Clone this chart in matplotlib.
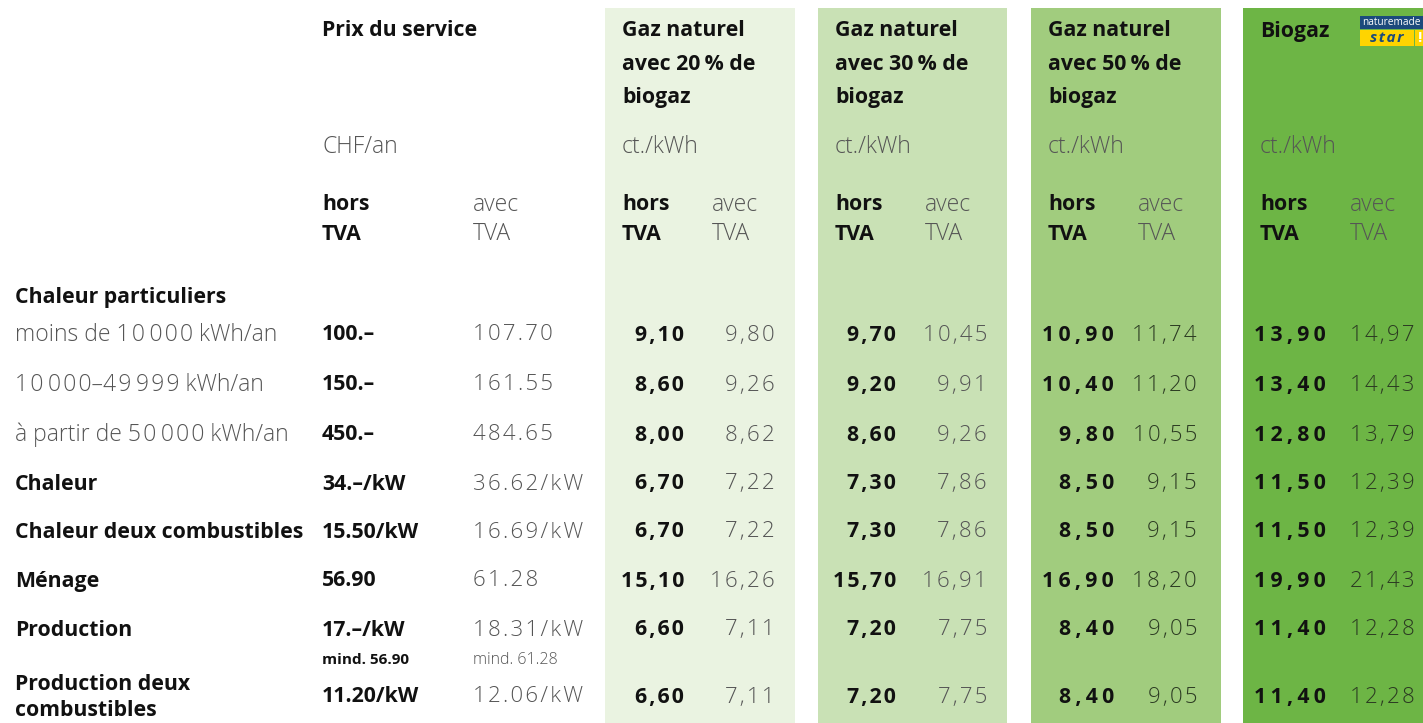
import re
import matplotlib.pyplot as plt
from matplotlib.patches import Rectangle

plt.rcParams['font.family'] = ['Open Sans', 'DejaVu Sans']

# table data
categories = ["moins de 10\u2009000 kWh/an", "10\u2009000\u201349\u2009999 kWh/an",
              "à partir de 50\u2009000 kWh/an", "Chaleur", "Chaleur deux combustibles",
              "Ménage", "Production", "Production deux\ncombustibles"]
cat_bold = [False, False, False, True, True, True, True, True]
prix_hors = ["100.–", "150.–", "450.–", "34.–/kW", "15.50/kW", "56.90", "17.–/kW", "11.20/kW"]
prix_avec = ["107.70", "161.55", "484.65", "36.62/kW", "16.69/kW", "61.28", "18.31/kW", "12.06/kW"]
gaz20_hors = [9.10, 8.60, 8.00, 6.70, 6.70, 15.10, 6.60, 6.60]
gaz20_avec = [9.80, 9.26, 8.62, 7.22, 7.22, 16.26, 7.11, 7.11]
gaz30_hors = [9.70, 9.20, 8.60, 7.30, 7.30, 15.70, 7.20, 7.20]
gaz30_avec = [10.45, 9.91, 9.26, 7.86, 7.86, 16.91, 7.75, 7.75]
gaz50_hors = [10.90, 10.40, 9.80, 8.50, 8.50, 16.90, 8.40, 8.40]
gaz50_avec = [11.74, 11.20, 10.55, 9.15, 9.15, 18.20, 9.05, 9.05]
bio_hors = [13.90, 13.40, 12.80, 11.50, 11.50, 19.90, 11.40, 11.40]
bio_avec = [14.97, 14.43, 13.79, 12.39, 12.39, 21.43, 12.28, 12.28]

band_titles = ["Gaz naturel\navec 20\u2009% de\nbiogaz", "Gaz naturel\navec 30\u2009% de\nbiogaz",
               "Gaz naturel\navec 50\u2009% de\nbiogaz", "Biogaz"]
band_colors = ["#eaf3e1", "#c9e1b5", "#a1cc7e", "#6db545"]
band_x = [(605, 795), (818, 1007), (1031, 1221), (1243, 1423)]
hors_right = [684, 896, 1114, 1326]
avec_right = [775, 987, 1197, 1415]
bands = [(gaz20_hors, gaz20_avec), (gaz30_hors, gaz30_avec),
         (gaz50_hors, gaz50_avec), (bio_hors, bio_avec)]

row_y = [335, 385, 435, 484, 532, 581, 630, 697]

fig = plt.figure(figsize=(14.23, 7.23), dpi=100)
ax = fig.add_axes([0, 0, 1, 1])
ax.set_xlim(0, 1423)
ax.set_ylim(723, 0)
ax.axis('off')

FS = 15.3
BOLD = dict(fontsize=FS, fontweight='bold', color='#111111', va='center')
LIGHT = dict(fontsize=16, fontweight='light', color='#555555', va='center')
WORD = dict(fontsize=16.5, fontweight='light', color='#555555', va='center')
HAIR = '\u200a'
THIN = '\u2009'


def fmt(v):
    return f"{v:.2f}".replace('.', ',')


def track(s, sp=HAIR):
    return sp.join(s)


def track_digits(s):
    return re.sub(r'(?<=\d)(?=\d)', HAIR, s)


def lines(x, y0, s, step, style):
    for k, part in enumerate(s.split('\n')):
        ax.text(x, y0 + k * step, part, **style)


for (x0, x1), c in zip(band_x, band_colors):
    ax.add_patch(Rectangle((x0, 8), x1 - x0, 723 - 8, color=c, lw=0, zorder=0))

# headers
ax.text(322, 30, "Prix du service", **BOLD)
ax.text(322, 147, "CHF/an", **WORD)
lines(322, 205, "hors\nTVA", 29, BOLD)
lines(473, 205, "avec\nTVA", 29, WORD)
for (x0, x1), title in zip(band_x, band_titles):
    tx = x0 + 17
    lines(tx, 31, title, 33, BOLD)
    ax.text(tx, 147, "ct./kWh", **WORD)
    lines(tx, 205, "hors\nTVA", 29, BOLD)
    lines(tx + 90, 205, "avec\nTVA", 29, WORD)

ax.text(15, 297, "Chaleur particuliers", **BOLD)

for i, y in enumerate(row_y):
    if cat_bold[i]:
        lines(15, y - 13 * categories[i].count('\n'), categories[i], 26, BOLD)
    else:
        ax.text(15, y, track_digits(categories[i]), **WORD)
    ax.text(322, y, prix_hors[i], **BOLD)
    ax.text(473, y, track(prix_avec[i]), **LIGHT)
    for b, (hors, avec) in enumerate(bands):
        lc = '#555555' if b < 2 else '#2b3a22'
        sp = HAIR if b < 2 else THIN
        ax.text(hors_right[b], y, track(fmt(hors[i]), sp), ha='right', **BOLD)
        ax.text(avec_right[b], y, track(fmt(avec[i])), ha='right', fontsize=16,
                fontweight='light', color=lc, va='center')

ax.text(322, 660, "mind. 56.90", fontsize=11, fontweight='bold', color='#111111', va='center')
ax.text(473, 660, "mind. 61.28", fontsize=11.5, fontweight='light', color='#555555', va='center')

# naturemade star logo
ax.add_patch(Rectangle((1360, 16), 63, 13, color='#1b4a7c', lw=0))
ax.add_patch(Rectangle((1360, 29.5), 54, 16, color='#ffd400', lw=0))
ax.add_patch(Rectangle((1415, 29.5), 8, 16, color='#ffd400', lw=0))
ax.text(1391.5, 22.5, "naturemade", fontsize=7.3, color='white', ha='center', va='center')
ax.text(1387, 37.5, track("star"), fontsize=11, fontweight='bold', style='italic',
        color='#1b4a7c', ha='center', va='center')
ax.text(1419, 37.5, "!", fontsize=11, fontweight='bold', color='white',
        ha='center', va='center')

fig.savefig('out.png', dpi=100, facecolor='white')
